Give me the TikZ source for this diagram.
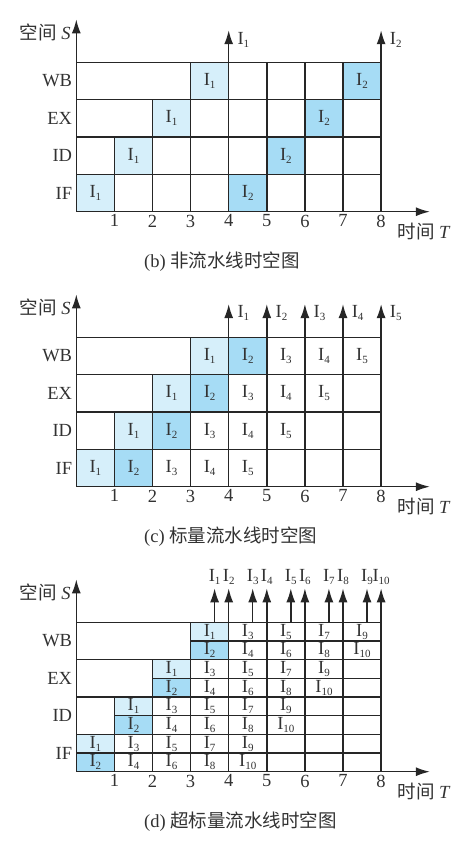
\documentclass[tikz,border=0pt]{standalone}
\usepackage{fontspec}
\setmainfont{Liberation Serif}
\newfontfamily\cjk{Noto Sans CJK SC}
\usetikzlibrary{arrows.meta,positioning}

\definecolor{lightcell}{RGB}{214,239,250}
\definecolor{darkcell}{RGB}{166,220,245}
\definecolor{ink}{RGB}{50,50,50}
\newcommand\Ins[1]{I\raisebox{-0.35ex}{\fontsize{11}{11}\selectfont #1}}

\tikzset{
  grid line/.style={draw=black!85, line width=1.5pt},
  axis/.style={draw=black!85, line width=1.5pt, -{Latex[length=14pt,width=9pt]}},
  lbl/.style={text=ink, font=\fontsize{18.5}{20}\selectfont, inner sep=1pt},
  cell/.style={lbl, inner sep=0pt, minimum width=38.1pt, minimum height=37.35pt},
  halfcell/.style={lbl, inner sep=0pt, minimum width=38.1pt, minimum height=18.67pt},
  first/.style={fill=lightcell},
  second/.style={fill=darkcell}
}

% axes, grid and labels of one panel
\newcommand\stframe[2]{%
  \foreach \rr in {1,...,4} \draw[grid line] (0,\rr) -- (8,\rr);
  \foreach \rr in {0,...,3} \foreach \xc in {\rr,...,8} \draw[grid line] (\xc,\rr) -- (\xc,\rr+1);
  \coordinate (#1O) at (0,0);
  \coordinate (#1Y) at (0,5.15);
  \coordinate (#1X) at (9.28,0);
  \draw[axis] (#1O) -- (#1Y);
  \draw[axis] (#1O) -- (#1X);
  \node[lbl, anchor=east] (#1yl) at (-0.12,4.8) {{\cjk 空间} \textit{S}};
  \node[lbl, anchor=west] (#1xl) at (8.4,-0.52) {{\cjk 时间} \textit{T}};
  \foreach \s [count=\rr from 0] in {IF,ID,EX,WB}
    \node[lbl, anchor=east] (#1\s) at (-0.08,\rr+0.5) {\s};
  \foreach \xc in {1,...,8}
    \node[lbl, anchor=north] (#1t\xc) at (\xc,-0.05) {\xc};
  \node[lbl, anchor=west] (#1cap) at (1.75,-1.35) {#2};
}

\begin{document}
\begin{tikzpicture}[x=1pt,y=1pt]
\useasboundingbox (0,0) rectangle (463,-847);

% (b) non-pipelined
\begin{scope}[xshift=76.3pt,yshift=-211.7pt,x=38.1pt,y=37.35pt]
  \foreach \rr in {0,...,3} {
    \node[cell,first] (b1\rr) at (\rr+0.5,\rr+0.5) {\Ins{1}};
    \node[cell,second] (b2\rr) at (\rr+4.5,\rr+0.5) {\Ins{2}};
  }
  \stframe{b}{(b) {\cjk 非流水线时空图}}
  \coordinate (bs1) at (4,4);
  \coordinate (be1) at (4,4.86);
  \coordinate (bs2) at (8,4);
  \coordinate (be2) at (8,4.86);
  \draw[axis] (bs1) -- (be1);
  \draw[axis] (bs2) -- (be2);
  \node[lbl, anchor=west] (bI1) at (4.2,4.6) {\Ins{1}};
  \node[lbl, anchor=west] (bI2) at (8.2,4.6) {\Ins{2}};
\end{scope}

% (c) scalar pipeline
\begin{scope}[xshift=76.3pt,yshift=-486.7pt,x=38.1pt,y=37.35pt]
  \foreach \rr in {0,...,3} {
    \node[cell,first] (c1\rr) at (\rr+0.5,\rr+0.5) {\Ins{1}};
    \node[cell,second] (c2\rr) at (\rr+1.5,\rr+0.5) {\Ins{2}};
    \foreach \k in {3,4,5}
      \node[cell] (c\k\rr) at (\rr+\k-0.5,\rr+0.5) {\Ins{\k}};
  }
  \stframe{c}{(c) {\cjk 标量流水线时空图}}
  \foreach \k in {1,...,5} {
    \coordinate (cs\k) at (\k+3,4);
    \coordinate (ce\k) at (\k+3,4.89);
    \draw[axis] (cs\k) -- (ce\k);
    \node[lbl, anchor=west] (cI\k) at (\k+3.2,4.64) {\Ins{\k}};
  }
\end{scope}

% (d) superscalar pipeline
\begin{scope}[xshift=76.3pt,yshift=-771.7pt,x=38.1pt,y=37.35pt]
  \foreach \rr in {0,...,3} {
    \node[halfcell,first] (d1\rr) at (\rr+0.5,\rr+0.75) {\Ins{1}};
    \node[halfcell,second] (d2\rr) at (\rr+0.5,\rr+0.25) {\Ins{2}};
    \foreach \j/\ka/\kb in {1/3/4,2/5/6,3/7/8,4/9/10} {
      \node[halfcell] (d\ka\rr) at (\rr+\j+0.5,\rr+0.75) {\Ins{\ka}};
      \node[halfcell] (d\kb\rr) at (\rr+\j+0.5,\rr+0.25) {\Ins{\kb}};
    }
  }
  \foreach \rr in {0,...,3} \draw[grid line] (\rr,\rr+0.5) -- (8,\rr+0.5);
  \stframe{d}{(d) {\cjk 超标量流水线时空图}}
  \foreach \k/\x in {1/3.63,2/4,3/4.63,4/5,5/5.63,6/6,7/6.63,8/7,9/7.63,10/8} {
    \coordinate (ds\k) at (\x,4);
    \coordinate (de\k) at (\x,4.91);
    \draw[axis] (ds\k) -- (de\k);
    \node[lbl, anchor=south] (dI\k) at (\x,4.97) {\Ins{\k}};
  }
\end{scope}
\end{tikzpicture}
\end{document}
